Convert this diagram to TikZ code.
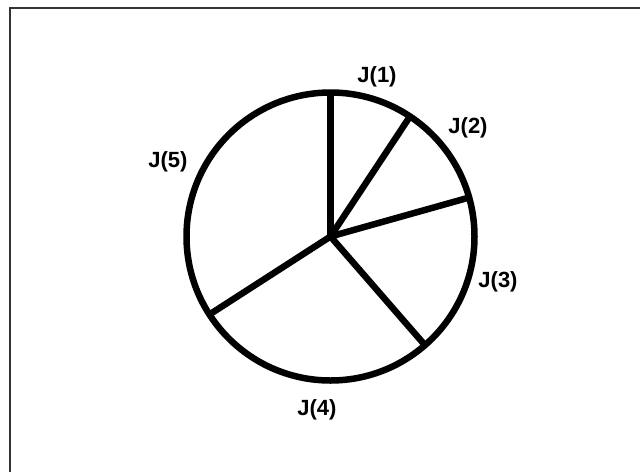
\documentclass[tikz,border=0pt]{standalone}
\usepackage{fontspec}
\setmainfont{Liberation Sans}
\usetikzlibrary{calc}
\begin{document}
\begin{tikzpicture}[x=1pt,y=-1pt,
  frame/.style={line width=2pt,black!80},
  pie/.style={line width=6.5pt,black},
  lbl/.style={font=\bfseries\fontsize{22}{26}\selectfont,inner sep=0pt}]
\useasboundingbox (0,0) rectangle (640,472);
\coordinate (tl) at (10,8);
\coordinate (tr) at (640,8);
\coordinate (bl) at (10,472);
\draw[frame] (tr) -- (tl) -- (bl);
\coordinate (c) at (330.5,236.5);
\draw[pie] (c) circle (144pt);
\coordinate (s1) at ($(c)+(-90:144)$);
\coordinate (s2) at ($(c)+(-56.5:144)$);
\coordinate (s3) at ($(c)+(-15.7:144)$);
\coordinate (s4) at ($(c)+(49:144)$);
\coordinate (s5) at ($(c)+(147.2:144)$);
\foreach \s in {s1,s2,s3,s4,s5}{\draw[pie,line join=round] (c) -- (\s);}
\node[lbl] (j1) at (377,77) {J(1)};
\node[lbl] (j2) at (468,128) {J(2)};
\node[lbl] (j3) at (498,282) {J(3)};
\node[lbl] (j4) at (317,410) {J(4)};
\node[lbl] (j5) at (168,162) {J(5)};
\end{tikzpicture}
\end{document}
